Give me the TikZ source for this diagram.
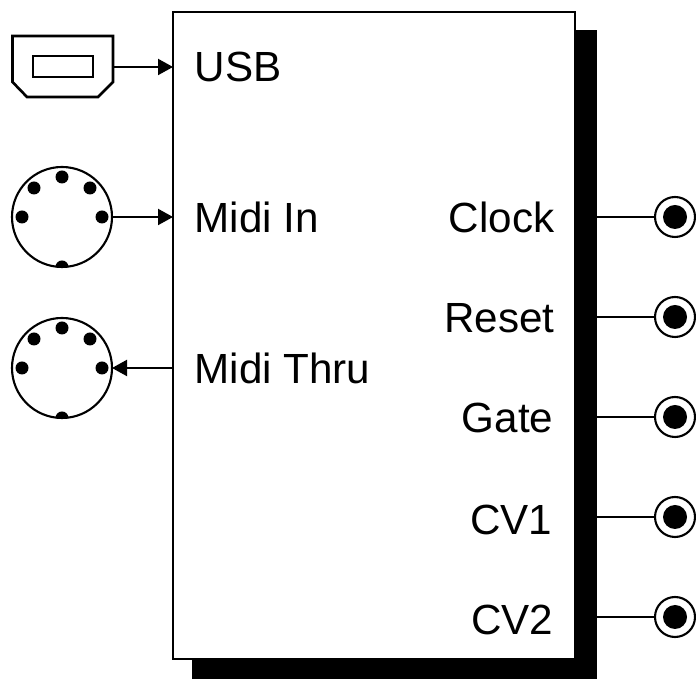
\documentclass[tikz,border=0pt]{standalone}
\usepackage{fontspec}
\setmainfont{Liberation Sans}
\usetikzlibrary{arrows.meta,positioning,calc}

\tikzset{
    wire/.style={line width=0.6pt},
    signal/.style={wire, -{Triangle[length=0.15cm,width=0.16cm]}},
    lab/.style={inner sep=0pt, font=\fontsize{12}{14}\selectfont},
    pin/.style={fill=black, draw=none},
}

\begin{document}
\begin{tikzpicture}
    \useasboundingbox (0,0) rectangle (6.96,6.79);

    % Module body with its shadow
    \node[fill=black, inner sep=0pt, outer sep=0pt, minimum width=4.05cm, minimum height=6.49cm, anchor=south west] (shadow) at (1.92,0) {};
    \node[draw, line width=0.6pt, fill=white, inner sep=0pt, outer sep=0pt, minimum width=4.02cm, minimum height=6.47cm, anchor=north west] (unit) at (1.73,6.67) {};

    % USB socket
    \draw[line width=0.75pt] (0.125,6.43) -- (1.13,6.43) -- (1.13,5.97) -- (0.98,5.82) -- (0.27,5.82) -- (0.125,5.97) -- cycle;
    \draw[line width=0.75pt] (0.33,6.23) rectangle (0.93,6.02);
    \coordinate (usbout) at (1.13,6.12);
    \draw[signal] (usbout) -- (unit.west |- usbout);
    \node[lab, anchor=base west] (usb) at (1.94,5.97) {USB};

    % Midi sockets
    \foreach \name/\y in {midiin/4.62, midithru/3.11} {
        \begin{scope}
            \clip (0.62,\y) circle (0.5cm);
            \foreach \px/\py in {0/0.40, -0.28/0.29, 0.28/0.29, -0.40/0, 0.40/0, 0/-0.50}
                \fill[pin] ($(0.62,\y)+(\px,\py)$) circle (0.065cm);
        \end{scope}
        \node[circle, draw, line width=0.6pt, inner sep=0pt, outer sep=0pt, minimum size=1.0cm] (\name) at (0.62,\y) {};
    }
    \draw[signal] (midiin.east) -- (unit.west |- midiin.east);
    \draw[signal] (unit.west |- midithru.east) -- (midithru.east);
    \node[lab, anchor=base west] (midiinlab) at (1.94,4.46) {Midi In};
    \node[lab, anchor=base west] (midithrulab) at (1.94,2.95) {Midi Thru};

    % Output jacks
    \foreach \name/\y/\txt/\tx/\ty in {clock/4.62/Clock/5.55/4.46, reset/3.62/Reset/5.55/3.46, gate/2.62/Gate/5.54/2.46, cvone/1.62/CV1/5.53/1.44, cvtwo/0.62/CV2/5.54/0.44} {
        \node[circle, draw, line width=0.6pt, fill=white, inner sep=0pt, outer sep=0pt, minimum size=0.40cm] (\name) at (6.75,\y) {};
        \fill[pin] (\name.center) circle (0.12cm);
        \draw[wire] (\name.west) -- (shadow.east |- \name.west);
        \node[lab, anchor=base east] (\name lab) at (\tx,\ty) {\txt};
    }
\end{tikzpicture}
\end{document}
